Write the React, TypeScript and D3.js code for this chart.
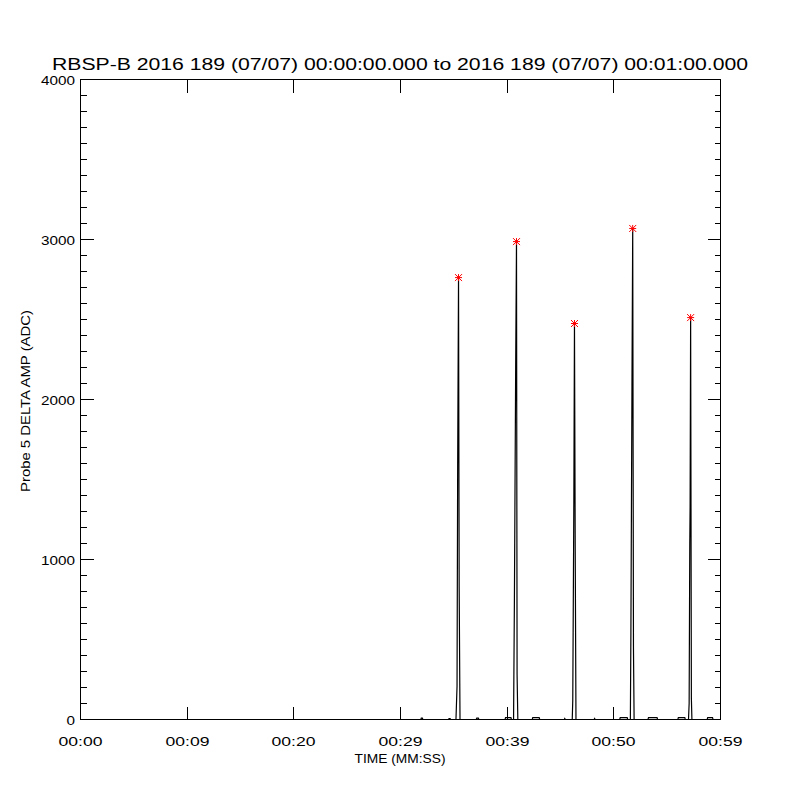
import React, { useEffect, useRef } from 'react';
import * as d3 from 'd3';

// seconds from 00:00:00 and probe 5 delta amplitude (ADC)
const ampTimes = [
  0,
  31.9, 31.95, 32.05, 32.1,
  34.5, 34.55, 34.65, 34.7,
  35.2, 35.3, 35.36, 35.44, 35.5, 35.58,
  37.1, 37.15, 37.3, 37.35,
  39.8, 39.85, 40.35, 40.4,
  40.6, 40.68, 40.8, 40.875, 40.93, 41.0,
  42.35, 42.4, 43.0, 43.05,
  45.35, 45.4, 45.45,
  46.1, 46.15, 46.25, 46.31, 46.38, 46.45,
  48.15, 48.2, 48.25,
  50.55, 50.6, 51.25, 51.3,
  51.55, 51.6, 51.7, 51.77, 51.84, 51.9,
  53.2, 53.25, 54.05, 54.1,
  56.0, 56.05, 56.65, 56.7,
  57.0, 57.06, 57.12, 57.15, 57.2, 57.27, 57.32,
  58.75, 58.8, 59.25, 59.3,
  60,
];
const ampValues = [
  0,
  0, 8, 8, 0,
  0, 6, 6, 0,
  0, 206, 1590, 2762, 825, 0,
  0, 8, 8, 0,
  0, 12, 12, 0,
  0, 756, 2231, 2987, 281, 0,
  0, 12, 12, 0,
  0, 6, 0,
  0, 119, 1350, 2475, 1056, 0,
  0, 6, 0,
  0, 12, 12, 0,
  0, 545, 2083, 3069, 451, 0,
  0, 12, 12, 0,
  0, 12, 12, 0,
  0, 100, 1102, 1327, 2512, 131, 0,
  0, 12, 12, 0,
  0,
];

// detected peaks (red asterisks)
const peakTimes = [35.44, 40.875, 46.31, 51.77, 57.2];
const peakValues = [2762, 2987, 2475, 3069, 2512];

const xTickValues = [0, 10, 20, 30, 40, 50, 60];
const xTickLabels = ['00:00', '00:09', '00:20', '00:29', '00:39', '00:50', '00:59'];
const yTickValues = [0, 1000, 2000, 3000, 4000];
const yTickLabels = ['0', '1000', '2000', '3000', '4000'];

const titleText = 'RBSP-B 2016 189 (07/07) 00:00:00.000 to 2016 189 (07/07) 00:01:00.000';

export default function App() {
  const chartRef = useRef<SVGSVGElement>(null);

  useEffect(() => {
    const width = 800;
    const height = 800;
    const svg = d3.select(chartRef.current);
    svg.selectAll('*').remove();
    svg.attr('width', width).attr('height', height);

    const font = "'Liberation Sans', Arial, sans-serif";

    const x = d3.scaleLinear().domain([0, 60]).range([80.5, 720.5]);
    const y = d3.scaleLinear().domain([0, 4000]).range([719.5, 79.5]);

    svg.append('rect').attr('width', width).attr('height', height).attr('fill', '#fff');

    const g = svg.append('g').attr('shape-rendering', 'crispEdges');

    // frame
    g.append('rect')
      .attr('x', x(0)).attr('y', y(4000))
      .attr('width', x(60) - x(0)).attr('height', y(0) - y(4000))
      .attr('fill', 'none').attr('stroke', '#000');

    // x ticks (bottom + top, inward, no minors)
    xTickValues.forEach((v, i) => {
      const px = Math.round(x(v) - 0.5) + 0.5;
      g.append('line').attr('x1', px).attr('x2', px).attr('y1', y(0)).attr('y2', y(0) - 13).attr('stroke', '#000');
      g.append('line').attr('x1', px).attr('x2', px).attr('y1', y(4000)).attr('y2', y(4000) + 13).attr('stroke', '#000');
      svg.append('text')
        .attr('x', px).attr('y', 746)
        .attr('text-anchor', 'middle')
        .attr('font-family', font).attr('font-size', 13)
        .attr('textLength', 44).attr('lengthAdjust', 'spacingAndGlyphs')
        .text(xTickLabels[i]);
    });

    // y ticks, majors every 1000, minors every 100
    d3.range(0, 4001, 100).forEach((v) => {
      const major = v % 1000 === 0;
      const len = major ? 13 : 6;
      const py = Math.round(y(v) - 0.5) + 0.5;
      g.append('line').attr('x1', x(0)).attr('x2', x(0) + len).attr('y1', py).attr('y2', py).attr('stroke', '#000');
      g.append('line').attr('x1', x(60)).attr('x2', x(60) - len).attr('y1', py).attr('y2', py).attr('stroke', '#000');
    });
    yTickValues.forEach((v, i) => {
      const lbl = yTickLabels[i];
      svg.append('text')
        .attr('x', 75).attr('y', y(v) + 5)
        .attr('text-anchor', 'end')
        .attr('font-family', font).attr('font-size', 13)
        .attr('textLength', lbl.length * 8.5).attr('lengthAdjust', 'spacingAndGlyphs')
        .text(lbl);
    });

    // data trace
    const pts: [number, number][] = ampTimes.map((t, i) => [t, ampValues[i]]);
    const line = d3.line<[number, number]>().x(d => x(d[0])).y(d => y(d[1]));
    svg.append('path')
      .datum(pts)
      .attr('d', line)
      .attr('fill', 'none')
      .attr('stroke', '#000')
      .attr('stroke-width', 1.2);

    // peak markers (asterisk)
    const r = 3.5;
    peakTimes.forEach((t, i) => {
      const cx = x(t);
      const cy = y(peakValues[i]);
      const mk = svg.append('g').attr('stroke', '#ff0000').attr('stroke-width', 1);
      mk.append('line').attr('x1', cx - r).attr('x2', cx + r).attr('y1', cy).attr('y2', cy);
      mk.append('line').attr('x1', cx).attr('x2', cx).attr('y1', cy - r).attr('y2', cy + r);
      mk.append('line').attr('x1', cx - r).attr('x2', cx + r).attr('y1', cy - r).attr('y2', cy + r);
      mk.append('line').attr('x1', cx - r).attr('x2', cx + r).attr('y1', cy + r).attr('y2', cy - r);
    });

    // title and axis titles
    svg.append('text')
      .attr('x', 400).attr('y', 69.5)
      .attr('text-anchor', 'middle')
      .attr('font-family', font).attr('font-size', 16)
      .attr('textLength', 696).attr('lengthAdjust', 'spacingAndGlyphs')
      .text(titleText);

    svg.append('text')
      .attr('x', 400).attr('y', 763)
      .attr('text-anchor', 'middle')
      .attr('font-family', font).attr('font-size', 13)
      .attr('textLength', 91).attr('lengthAdjust', 'spacingAndGlyphs')
      .text('TIME (MM:SS)');

    svg.append('text')
      .attr('transform', 'translate(30,401) rotate(-90)')
      .attr('text-anchor', 'middle')
      .attr('font-family', font).attr('font-size', 13)
      .attr('textLength', 182).attr('lengthAdjust', 'spacingAndGlyphs')
      .text('Probe 5 DELTA AMP (ADC)');
  }, []);

  return (
    <svg ref={chartRef} style={{ position: 'absolute', left: 0, top: 0 }} />
  );
}
